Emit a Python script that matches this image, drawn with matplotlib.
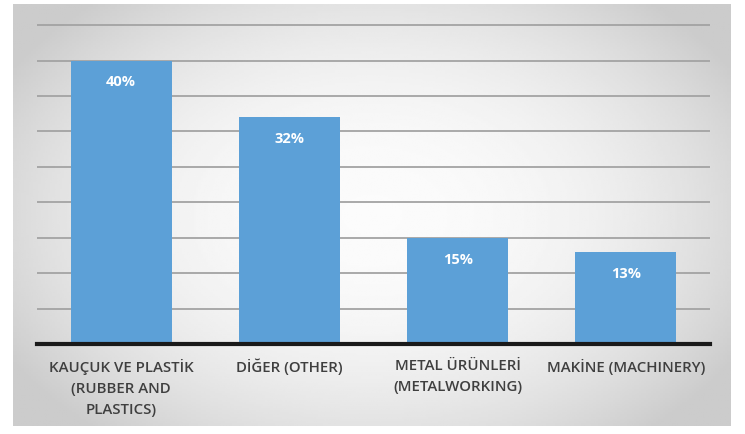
import numpy as np
import matplotlib
matplotlib.use('Agg')
import matplotlib.pyplot as plt

categories = ['KAUÇUK VE PLASTİK\n(RUBBER AND\nPLASTICS)', 'DİĞER (OTHER)',
              'METAL ÜRÜNLERİ\n(METALWORKING)', 'MAKİNE (MACHINERY)']
values = [40, 32, 15, 13]
value_labels = ['40%', '32%', '15%', '13%']

BAR_COLOR = '#5ca0d7'
TEXT_COLOR = '#3f3f3f'

plt.rcParams['font.family'] = ['Open Sans', 'DejaVu Sans']

fig = plt.figure(figsize=(7.45, 4.35), dpi=100)
fig.patch.set_facecolor('white')

# gray panel with soft radial gradient behind the chart
bg = fig.add_axes([13 / 745, 1 - 427 / 435, (731 - 13) / 745, (427 - 5) / 435])
yy, xx = np.mgrid[-1:1:200j, -1:1:300j]
r = np.sqrt((xx / 1.0) ** 2 + (yy / 1.15) ** 2)
shade = np.clip(0.985 - 0.13 * r ** 2.2, 0.80, 0.985)
bg.imshow(shade, cmap='gray', vmin=0, vmax=1, aspect='auto', extent=[0, 1, 0, 1])
bg.set_axis_off()

ax = fig.add_axes([37 / 745, 1 - 345 / 435, (710 - 37) / 745, (345 - 12) / 435])
ax.patch.set_alpha(0)

x = np.arange(len(values))
bars = ax.bar(x, values, width=0.6, color=BAR_COLOR, zorder=3)

ax.set_xlim(-0.5, 3.5)
ax.set_ylim(0, 47)
ax.set_yticks(np.arange(5, 50, 5))
ax.yaxis.grid(True, color='#a3a3a3', linewidth=1.3, zorder=1)
ax.tick_params(axis='y', length=0, labelleft=False)

for s in ['top', 'right', 'left']:
    ax.spines[s].set_visible(False)
ax.spines['bottom'].set_color('#1a1a1a')
ax.spines['bottom'].set_linewidth(3)
ax.spines['bottom'].set_zorder(4)

ax.set_xticks(x)
ax.set_xticklabels(categories, fontsize=10.8, color=TEXT_COLOR, fontweight='semibold',
                   linespacing=1.65)
ax.tick_params(axis='x', length=0, pad=10)

for b, lab in zip(bars, value_labels):
    ax.annotate(lab, (b.get_x() + b.get_width() / 2, b.get_height()),
                xytext=(0, -15), textcoords='offset points', ha='center', va='center',
                color='white', fontsize=10.5, fontweight='bold', zorder=5)

fig.savefig('out.png', dpi=100)
